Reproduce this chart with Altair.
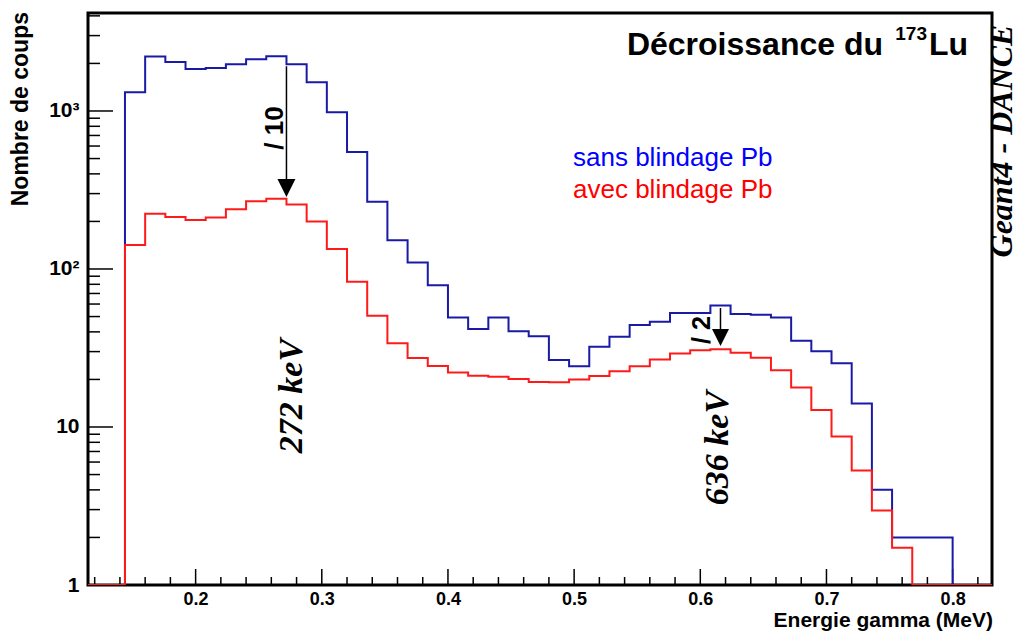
import altair as alt
import pandas as pd

# ---------------- data ----------------
bin_lo = [0.112, 0.128, 0.144, 0.160, 0.176, 0.192, 0.208, 0.224, 0.240, 0.256,
          0.272, 0.288, 0.304, 0.320, 0.336, 0.352, 0.368, 0.384, 0.400, 0.416,
          0.432, 0.448, 0.464, 0.480, 0.496, 0.512, 0.528, 0.544, 0.560, 0.576,
          0.592, 0.608, 0.624, 0.640, 0.656, 0.672, 0.688, 0.704, 0.720, 0.736,
          0.752, 0.768, 0.784, 0.800, 0.816]
bin_end = 0.832

sans_pb = [0, 0, 1316, 2210, 2040, 1845, 1871, 1977, 2124, 2218,
           1977, 1520, 980, 551, 266, 152, 110, 79, 49.3, 41.7,
           49.3, 40.3, 37.5, 26.5, 24.2, 32.2, 37.3, 44.2, 46.4, 52.6,
           52.6, 58.8, 51.9, 51.4, 49.4, 35.2, 30.2, 25.3, 14.1, 4.0,
           2.0, 2.0, 2.0, 0, 0]

avec_pb = [0, 0, 141.6, 224, 213, 204, 212, 239, 268, 278,
           256, 200, 134, 83, 50.6, 33.9, 27.3, 24.3, 22.1, 21.1,
           20.8, 20.1, 19.3, 19.2, 20.0, 21.0, 22.5, 24.2, 26.7, 29.2,
           30.6, 31.0, 29.5, 27.4, 22.9, 17.8, 12.8, 8.7, 5.3, 2.96,
           1.72, 0, 0, 0, 0]

x_major = [0.2, 0.3, 0.4, 0.5, 0.6, 0.7, 0.8]
x_minor = [0.12, 0.14, 0.16, 0.18, 0.22, 0.24, 0.26, 0.28, 0.32, 0.34, 0.36, 0.38,
           0.42, 0.44, 0.46, 0.48, 0.52, 0.54, 0.56, 0.58, 0.62, 0.64, 0.66, 0.68,
           0.72, 0.74, 0.76, 0.78, 0.82]
y_major = [1, 10, 100, 1000]
y_minor = [2, 3, 4, 5, 6, 7, 8, 9, 20, 30, 40, 50, 60, 70, 80, 90,
           200, 300, 400, 500, 600, 700, 800, 900, 2000, 3000, 4000]

arrow_x = [0.272, 0.616]
arrow_top = [1919, 56.6]
arrow_head = [326, 36.8]
arrow_size = [324, 289]

W, H = 904, 572
X_DOM = [0.1147, 0.8312]
Y_DOM = [1, 4170]

SANS = "Liberation Sans"
SERIF = "Liberation Serif"


def hist_frame(counts):
    rows = [{"E": e, "count": c} for e, c in zip(bin_lo, counts)]
    rows.append({"E": bin_end, "count": counts[-1]})
    return pd.DataFrame(rows)


xscale = alt.Scale(domain=X_DOM, nice=False, zero=False)
yscale = alt.Scale(type="log", domain=Y_DOM, nice=False)

xaxis = alt.Axis(values=x_major, format=".1f", title=None, ticks=False, tickSize=0,
                 domain=False, grid=False, labelFont=SANS, labelFontWeight="bold",
                 labelFontSize=18, labelPadding=5, labelColor="black",
                 labelFlush=False, labelOverlap=False)
yaxis = alt.Axis(values=y_major, title=None, ticks=False, tickSize=0, domain=False,
                 grid=False, labelFont=SANS, labelFontWeight="bold", labelFontSize=21,
                 labelPadding=9, labelColor="black", labelFlush=False, labelOverlap=False,
                 labelExpr="datum.value == 1 ? '1' : datum.value == 10 ? '10' : "
                           "datum.value == 100 ? '10²' : '10³'")

X = lambda f: alt.X(f, type="quantitative", scale=xscale, axis=xaxis)
Y = lambda f: alt.Y(f, type="quantitative", scale=yscale, axis=yaxis)


def step_layer(counts, color):
    return (alt.Chart(hist_frame(counts))
            .transform_calculate(shown="max(datum.count, 1)")
            .mark_line(interpolate="step-after", color=color, strokeWidth=2, clip=True)
            .encode(x=X("E"), y=Y("shown"), order=alt.Order("E:Q")))


blue = step_layer(sans_pb, "#1a1aa6")
red = step_layer(avec_pb, "#ff1a1a")

# inward ticks
xt_major = alt.Chart(pd.DataFrame({"v": x_major})).mark_rule(color="black", strokeWidth=1.5).encode(
    x=X("v"), y=alt.value(H), y2=alt.value(H - 16))
xt_minor = alt.Chart(pd.DataFrame({"v": x_minor})).mark_rule(color="black", strokeWidth=1.5).encode(
    x=X("v"), y=alt.value(H), y2=alt.value(H - 8))
yt_major = alt.Chart(pd.DataFrame({"v": y_major})).mark_rule(color="black", strokeWidth=1.5).encode(
    y=Y("v"), x=alt.value(0), x2=alt.value(25))
yt_minor = alt.Chart(pd.DataFrame({"v": y_minor})).mark_rule(color="black", strokeWidth=1.5).encode(
    y=Y("v"), x=alt.value(0), x2=alt.value(12))

# arrows
arr_df = pd.DataFrame({"x": arrow_x, "top": arrow_top, "head": arrow_head, "size": arrow_size})
shafts = alt.Chart(arr_df).mark_rule(color="black", strokeWidth=1.5).encode(
    x=X("x"), y=Y("top"), y2="head")
heads = alt.Chart(arr_df).mark_point(shape="M -1 -1 L 1 -1 L 0 1 Z", filled=True,
                                     color="black", opacity=1).encode(
    x=X("x"), y=Y("head"), size=alt.Size("size:Q", scale=None, legend=None))


def txt(text, x, y, size, color="black", font=SANS, weight="bold", style="normal",
        align="left", baseline="alphabetic", angle=0):
    kw = dict(text=text, font=font, fontSize=size, fontWeight=weight, fontStyle=style,
              color=color, align=align, baseline=baseline)
    if angle:
        kw["angle"] = angle
    return alt.Chart(pd.DataFrame({"a": [0]})).mark_text(**kw).encode(
        x=alt.value(x), y=alt.value(y))


texts = [
    txt("Décroissance du", 795, 42, 32, align="right"),
    txt("173", 839, 27, 19, align="right"),
    txt("Lu", 880, 42, 32, align="right"),
    txt("sans blindage Pb", 485, 145, 26, color="#0000ff", weight="normal", baseline="middle"),
    txt("avec blindage Pb", 485, 177, 26, color="#ff0000", weight="normal", baseline="middle"),
    txt("/ 10", 187, 115, 26, align="center", baseline="middle", angle=270),
    txt("/ 2", 614, 317, 25, align="center", baseline="middle", angle=270),
    txt("272 keV", 204, 383, 34, font=SERIF, style="italic", align="center",
        baseline="middle", angle=270),
    txt("636 keV", 630, 435, 34, font=SERIF, style="italic", align="center",
        baseline="middle", angle=270),
    txt("Geant4 - DANCE", 931, 128, 32, font=SERIF, style="italic", align="center",
        baseline="bottom", angle=270),
    txt("Nombre de coups", -67, -1, 23, align="right", baseline="middle", angle=270),
    txt("Energie gamma (MeV)", 905, 614, 21, align="right"),
]

chart = alt.layer(
    xt_minor, xt_major, yt_minor, yt_major, blue, red, shafts, heads, *texts
).properties(
    width=W, height=H,
    padding={"left": 80, "top": 5, "right": 28, "bottom": 46},
    autosize=alt.AutoSizeParams(type="none"),
    background="white",
).configure_view(stroke="black", strokeWidth=3)

chart.save("out.html", embed_options={"renderer": "svg", "actions": False})
